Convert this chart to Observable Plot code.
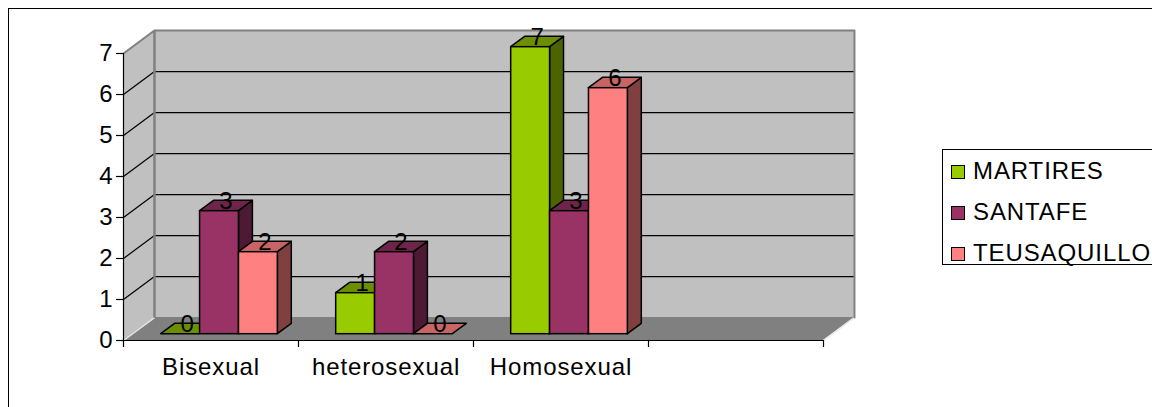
<!DOCTYPE html>
<html>
<head>
<meta charset="utf-8">
<script src="https://cdn.jsdelivr.net/npm/d3@7"></script>
<script src="https://cdn.jsdelivr.net/npm/@observablehq/plot@0.6"></script>
<style>
  html, body { margin: 0; padding: 0; background: #fff; }
  #wrap { position: relative; width: 1152px; height: 407px; overflow: hidden; font-family: "Liberation Sans", Arial, sans-serif; }
  #border { position: absolute; left: 8px; top: 8px; width: 1200px; height: 500px; border: 1px solid #000; box-sizing: border-box; }
  #chart { position: absolute; left: 0; top: 0; }
  #legend { position: absolute; left: 942px; top: 149px; width: 230px; height: 116px; border: 1px solid #000; box-sizing: border-box; background: #fff; }
  .item { position: absolute; left: 0; font-size: 24px; line-height: 24px; white-space: nowrap; color: #000; letter-spacing: 0.9px; }
  .sw { position: absolute; width: 14px; height: 14px; border: 1px solid #000; box-sizing: border-box; }
  .lbl { position: absolute; left: 30px; top: 0; }
</style>
</head>
<body>
<div id="wrap">
  <div id="border"></div>
  <div id="chart"></div>
  <div id="legend"></div>
</div>
<script>
// ---- data ----
const categories = ["Bisexual", "heterosexual", "Homosexual", ""];
const seriesNames = ["MARTIRES", "SANTAFE", "TEUSAQUILLO"];
const martires = [0, 1, 7, null];
const santafe = [3, 2, 3, null];
const teusaquillo = [2, 0, 6, null];
const yTicks = [0, 1, 2, 3, 4, 5, 6, 7];

// ---- styles ----
const frontColors = ["#99CC00", "#993366", "#FF8080"];
const topColors = ["#6B8F00", "#6E2549", "#C86464"];
const sideColors = ["#4B6400", "#4D1A33", "#804040"];

const seriesValues = [martires, santafe, teusaquillo];
const yMax = yTicks[yTicks.length - 1];
const nCat = categories.length;

// oblique projection of depth, in data units
const DX = 0.177, DY = 0.56;
const d0 = 0.275, d1 = 0.725; // bar depth span
const GAP = 1.5; // gap width 150%
const w = 1 / (seriesNames.length + GAP);

const bars = [];
categories.forEach((c, i) => {
  seriesValues.forEach((vals, s) => {
    const v = vals[i];
    if (v == null) return;
    const a = i + GAP * w / 2 + s * w, b = a + w;
    bars.push({id: `${i}-${s}`, i, s, v, a, b});
  });
});

const fronts = bars.filter(d => d.v > 0).map(d => ({
  x1: d.a + d0 * DX, x2: d.b + d0 * DX, y1: d0 * DY, y2: d.v + d0 * DY, fill: frontColors[d.s]
}));
const tops = bars.flatMap(d => [
  {id: d.id, y: d.v + d0 * DY, x1: d.a + d0 * DX, x2: d.b + d0 * DX, fill: topColors[d.s]},
  {id: d.id, y: d.v + d1 * DY, x1: d.a + d1 * DX, x2: d.b + d1 * DX, fill: topColors[d.s]}
]);
const sides = bars.filter(d => d.v > 0).flatMap(d => [
  {id: d.id, x: d.b + d0 * DX, y1: d0 * DY, y2: d.v + d0 * DY, fill: sideColors[d.s]},
  {id: d.id, x: d.b + d1 * DX, y1: d1 * DY, y2: d.v + d1 * DY, fill: sideColors[d.s]}
]);
const labels = bars.map(d => ({
  x: (d.a + d.b) / 2 + (d0 + d1) / 2 * DX, y: d.v + (d0 + d1) / 2 * DY, text: String(d.v)
}));

const sideWall = [{x: 0, y1: 0, y2: yMax}, {x: DX, y1: DY, y2: yMax + DY}];
const backWall = [{x1: DX, x2: nCat + DX, y1: DY, y2: yMax + DY}];
const floor = [{y: 0, x1: 0, x2: nCat}, {y: DY, x1: DX, x2: nCat + DX}];
const gridVals = yTicks.filter(v => v > 0 && v < yMax);
const topEdge = [{x: 0, y: yMax}, {x: DX, y: yMax + DY}, {x: nCat + DX, y: yMax + DY}, {x: nCat + DX, y: DY}];
const catTicks = d3.range(nCat + 1);
const catCenters = categories.map((c, i) => i + 0.5);

const plot = Plot.plot({
  width: 1152,
  height: 407,
  marginLeft: 123,
  marginRight: 329,
  marginTop: 53,
  marginBottom: 67,
  style: {background: "transparent", fontFamily: "'Liberation Sans', Arial, sans-serif", fontSize: "24px", overflow: "visible", letterSpacing: "0.9px"},
  x: {type: "linear", domain: [0, nCat], axis: null},
  y: {type: "linear", domain: [0, yMax], axis: null},
  color: {type: "identity"},
  marks: [
    Plot.areaY(sideWall, {x: "x", y1: "y1", y2: "y2", fill: "#C0C0C0"}),
    Plot.rect(backWall, {x1: "x1", x2: "x2", y1: "y1", y2: "y2", fill: "#C0C0C0"}),
    Plot.ruleY(gridVals, {y: d => d + DY, x1: DX, x2: nCat + DX, stroke: "#000", strokeWidth: 1.2}),
    Plot.link(gridVals, {x1: 0, y1: d => d, x2: DX, y2: d => d + DY, stroke: "#000", strokeWidth: 1.2}),
    Plot.areaX(floor, {y: "y", x1: "x1", x2: "x2", fill: "#808080"}),
    Plot.link([0, nCat], {x1: d => d, y1: 0, x2: d => d + DX, y2: DY, stroke: "#E8E8E8", strokeWidth: 1.5}),
    Plot.line(topEdge, {x: "x", y: "y", stroke: "#808080", strokeWidth: 2}),
    Plot.link([DX], {x1: d => d, x2: d => d, y1: DY, y2: yMax + DY, stroke: "#808080", strokeWidth: 2.5}),
    // bars
    Plot.areaY(sides, {x: "x", y1: "y1", y2: "y2", z: "id", fill: "fill", stroke: "#000", strokeWidth: 1.5, strokeLinejoin: "round"}),
    Plot.areaX(tops, {y: "y", x1: "x1", x2: "x2", z: "id", fill: "fill", stroke: "#000", strokeWidth: 1.5, strokeLinejoin: "round"}),
    Plot.rect(fronts, {x1: "x1", x2: "x2", y1: "y1", y2: "y2", fill: "fill", stroke: "#000", strokeWidth: 1.5}),
    Plot.text(labels, {x: "x", y: "y", text: "text", fontSize: 24, lineAnchor: "middle", dy: -5, fill: "#000"}),
    // axes
    Plot.ruleX([0], {y1: 0, y2: yMax, stroke: "#000", strokeWidth: 1.2}),
    Plot.ruleY([0], {x1: 0, x2: nCat, stroke: "#000", strokeWidth: 1.2}),
    Plot.axisY({ticks: yTicks, tickSize: 7, tickPadding: 3, fontSize: 24, label: null, tickFormat: d => String(d), stroke: "#000", strokeWidth: 1.2}),
    Plot.axisX({ticks: catTicks, tickSize: 7, tickFormat: () => "", label: null, stroke: "#000", strokeWidth: 1.2}),
    Plot.axisX({ticks: catCenters, tickSize: 0, tickPadding: 17, fontSize: 24, label: null, tickFormat: d => categories[Math.floor(d)]})
  ]
});
document.getElementById("chart").appendChild(plot);

// legend
const legend = document.getElementById("legend");
seriesNames.forEach((name, k) => {
  const item = document.createElement("div");
  item.className = "item";
  item.style.top = (9 + k * 41) + "px";
  item.style.width = "230px";
  item.style.height = "30px";
  const sw = document.createElement("div");
  sw.className = "sw";
  sw.style.left = "8px";
  sw.style.top = "6px";
  sw.style.background = frontColors[k];
  const lbl = document.createElement("div");
  lbl.className = "lbl";
  lbl.textContent = name;
  item.appendChild(sw);
  item.appendChild(lbl);
  legend.appendChild(item);
});
</script>
</body>
</html>
